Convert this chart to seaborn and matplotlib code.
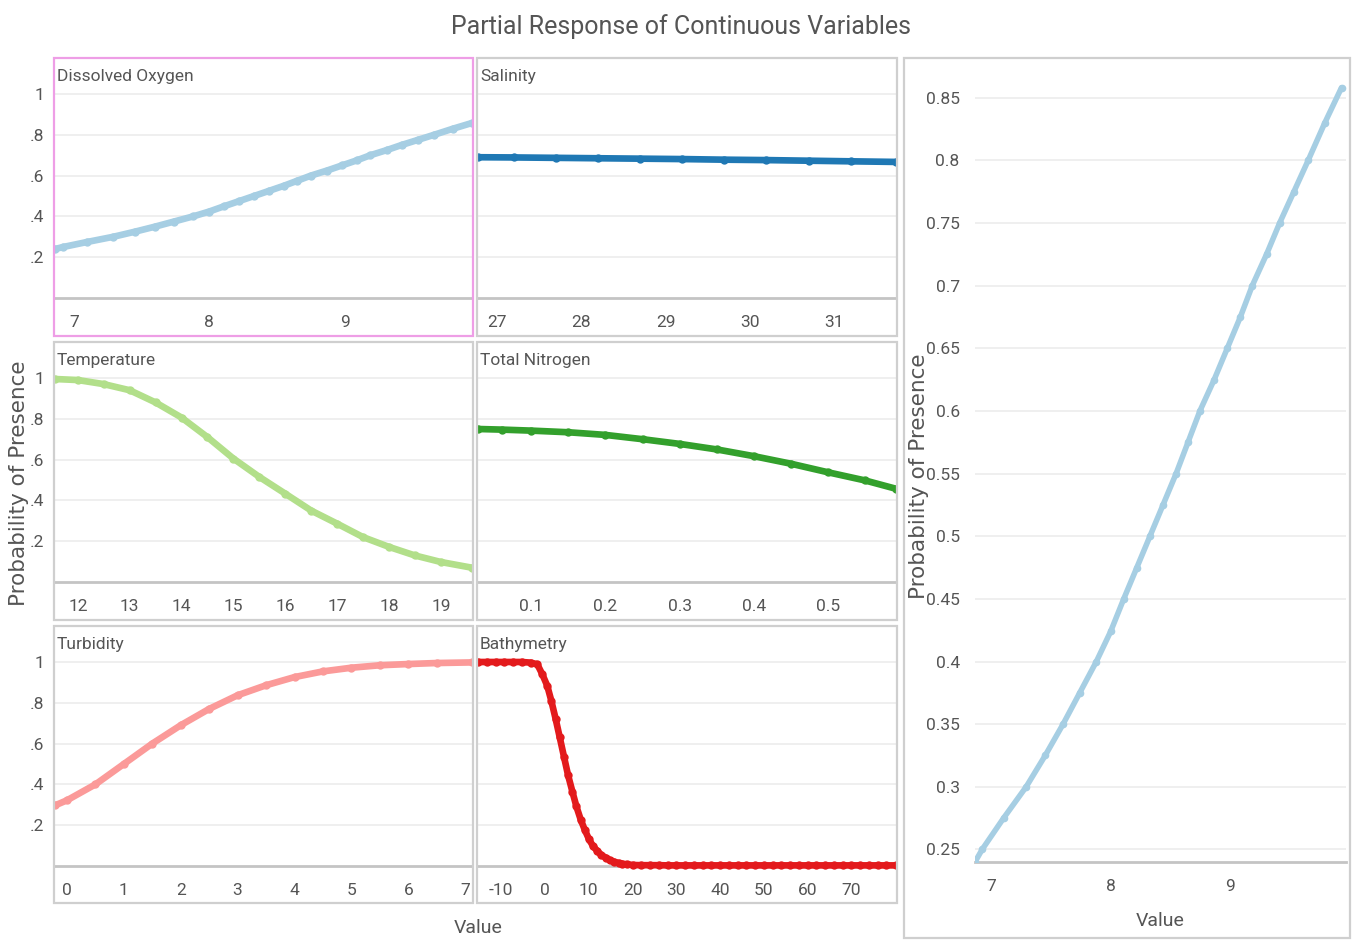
import numpy as np
import matplotlib
matplotlib.use("Agg")
import matplotlib.pyplot as plt
from matplotlib.patches import Rectangle
import seaborn as sns

# values
do_x = [6.86, 6.92, 7.10, 7.29, 7.45, 7.60, 7.74, 7.88, 8.00, 8.11, 8.22, 8.33, 8.44,
        8.55, 8.65, 8.75, 8.87, 8.98, 9.09, 9.19, 9.31, 9.42, 9.54, 9.66, 9.80, 9.94]
do_y = [0.240, 0.250, 0.275, 0.300, 0.325, 0.350, 0.375, 0.400, 0.424, 0.450, 0.475, 0.500, 0.525,
        0.550, 0.575, 0.600, 0.625, 0.650, 0.675, 0.700, 0.725, 0.750, 0.775, 0.800, 0.830, 0.858]

sal_x = [26.77, 27.2, 27.7, 28.2, 28.7, 29.2, 29.7, 30.2, 30.7, 31.2, 31.74]
sal_y = [0.690, 0.689, 0.687, 0.685, 0.683, 0.681, 0.678, 0.676, 0.673, 0.670, 0.667]

temp_x = [11.56, 12.0, 12.5, 13.0, 13.5, 14.0, 14.5, 15.0, 15.5, 16.0, 16.5, 17.0,
          17.5, 18.0, 18.5, 19.0, 19.6]
temp_y = [0.995, 0.990, 0.970, 0.940, 0.880, 0.806, 0.710, 0.605, 0.515, 0.433, 0.350, 0.286,
          0.220, 0.172, 0.130, 0.098, 0.070]

tn_x = [0.028, 0.06, 0.10, 0.15, 0.20, 0.25, 0.30, 0.35, 0.40, 0.45, 0.50, 0.55, 0.592]
tn_y = [0.750, 0.747, 0.742, 0.734, 0.721, 0.700, 0.677, 0.650, 0.617, 0.580, 0.538, 0.498, 0.457]

turb_x = [-0.21, 0.0, 0.5, 1.0, 1.5, 2.0, 2.5, 3.0, 3.5, 4.0, 4.5, 5.0, 5.5, 6.0, 6.5, 7.12]
turb_y = [0.297, 0.322, 0.400, 0.500, 0.600, 0.690, 0.770, 0.837, 0.886, 0.926, 0.954, 0.972,
          0.984, 0.990, 0.995, 0.998]

bath_x = [-15.3, -13.3, -11.3, -9.3, -7.3, -5.3, -3.3, -1.76, -0.61, 0.53, 1.45, 2.44, 3.36,
          4.35, 5.27, 6.26, 7.18, 8.17, 9.08, 10.08, 10.99, 11.98, 12.9, 13.9, 14.8, 15.8,
          16.8, 17.7, 18.8, 20.0, 22.0, 24.0, 26.0, 28.0, 30.0, 32.0, 34.0, 36.0, 38.0, 40.0,
          42.0, 44.0, 46.0, 48.0, 50.0, 52.0, 54.0, 56.0, 58.0, 60.0, 62.0, 64.0, 66.0, 68.0,
          70.0, 72.0, 74.0, 76.0, 78.0, 80.2]
bath_y = [1.0, 1.0, 1.0, 1.0, 1.0, 1.0, 0.997, 0.989, 0.940, 0.883, 0.810, 0.721, 0.632,
          0.535, 0.446, 0.365, 0.292, 0.227, 0.178, 0.130, 0.097, 0.073, 0.053, 0.041, 0.029, 0.021,
          0.015, 0.011, 0.008, 0.005, 0.004, 0.004, 0.004, 0.003, 0.003, 0.003, 0.003, 0.003, 0.003, 0.003,
          0.003, 0.003, 0.003, 0.003, 0.003, 0.003, 0.003, 0.003, 0.003, 0.003, 0.003, 0.003, 0.003, 0.003,
          0.003, 0.003, 0.003, 0.003, 0.003, 0.003]

panel_names = ["Dissolved Oxygen", "Salinity", "Temperature", "Total Nitrogen", "Turbidity", "Bathymetry"]
panel_data = [(do_x, do_y), (sal_x, sal_y), (temp_x, temp_y), (tn_x, tn_y), (turb_x, turb_y), (bath_x, bath_y)]
panel_xticks = [[7, 8, 9], [27, 28, 29, 30, 31], list(range(12, 20)),
                [0.1, 0.2, 0.3, 0.4, 0.5], list(range(0, 8)), list(range(-10, 80, 10))]
prob_ticks = [0.2, 0.4, 0.6, 0.8, 1.0]
prob_labels = [".2", ".4", ".6", ".8", "1"]
big_yticks = [0.25, 0.3, 0.35, 0.4, 0.45, 0.5, 0.55, 0.6, 0.65, 0.7, 0.75, 0.8, 0.85]

colors = sns.color_palette("Paired", 6)

sns.set_style("white")
NARROW = ["Liberation Sans Narrow", "Roboto", "DejaVu Sans"]
plt.rcParams["font.family"] = NARROW

W, H = 1356, 940
TXT = "#555555"
GRID = "#ececec"
AXLINE = "#c4c4c4"


def fig_box(x0, y0, x1, y1):
    return [x0 / W, 1 - y1 / H, (x1 - x0) / W, (y1 - y0) / H]


def frame(fig, x0, y0, x1, y1, color="#cfcfcf"):
    fig.add_artist(Rectangle((x0 / W, 1 - y1 / H), (x1 - x0) / W, (y1 - y0) / H,
                             transform=fig.transFigure, fill=False, edgecolor=color, lw=1.6))


def draw_curve(ax, x, y, color, lw=4.8, ms=6):
    sns.lineplot(x=x, y=y, ax=ax, color=color, linewidth=lw, marker="o", markersize=ms,
                 markeredgewidth=0, sort=False, estimator=None, zorder=4)


fig = plt.figure(figsize=(W / 100, H / 100), dpi=100)

fig.text(681 / W, 1 - 27 / H, "Partial Response of Continuous Variables", ha="center", va="center",
         fontsize=18, color=TXT)

cols = [(54, 473), (477, 897)]
rows = [(58, 336), (342, 620), (626, 903)]

for i, name in enumerate(panel_names):
    r, c = divmod(i, 2)
    x0, x1 = cols[c]
    y0, y1 = rows[r]
    frame(fig, x0, y0, x1, y1, color="#ee9ee6" if i == 0 else "#cfcfcf")
    ax = fig.add_axes(fig_box(x0 + 1, y0, x1 - 1, y1))
    ax.set_facecolor("none")
    x, y = panel_data[i]
    draw_curve(ax, x, y, colors[i])
    ax.set_xlim(x[0], x[-1])
    # value 1 sits 36 px below the frame top, value 0 sits 240 px below it
    ax.set_ylim(-(y1 - y0 - 240) / 204, 1 + 36 / 204)
    for s in ["top", "right", "left"]:
        ax.spines[s].set_visible(False)
    ax.spines["bottom"].set_position(("data", 0))
    ax.spines["bottom"].set_color(AXLINE)
    ax.spines["bottom"].set_linewidth(2)
    ax.spines["bottom"].set_zorder(1)
    ax.set_xticks(panel_xticks[i])
    ax.set_xticklabels([f"{v:g}" for v in panel_xticks[i]])
    ax.tick_params(axis="x", length=4, width=1, color="#aaaaaa", pad=8, labelsize=12.5, labelcolor=TXT)
    ax.set_yticks(prob_ticks)
    if c == 0:
        ax.set_yticklabels(prob_labels)
    else:
        ax.set_yticklabels([])
    ax.tick_params(axis="y", length=0, pad=8, labelsize=12.5, labelcolor=TXT)
    ax.grid(axis="y", color=GRID, lw=1.2)
    ax.grid(axis="x", visible=False)
    ax.set_xlabel("")
    ax.set_ylabel("")
    fig.text((x0 + 3) / W, 1 - (y0 + 19) / H, name, ha="left", va="center", fontsize=12.5, color=TXT)

fig.text(19 / W, 1 - 483 / H, "Probability of Presence", rotation=90, ha="center", va="center",
         fontsize=15.5, color=TXT, family=["DejaVu Sans"])
fig.text(478 / W, 1 - 928 / H, "Value", ha="center", va="center", fontsize=14, color=TXT)

# enlarged view of the selected variable
frame(fig, 904, 58, 1350, 938)
bx = fig.add_axes(fig_box(975, 80, 1346, 862))
bx.set_facecolor("none")
draw_curve(bx, do_x, do_y, colors[0], lw=4, ms=5.5)
bx.set_xlim(6.86, 6.86 + 371 / 119)
bx.set_ylim(0.24, 0.24 + 782 / 1253)
for s in ["top", "right", "left"]:
    bx.spines[s].set_visible(False)
bx.spines["bottom"].set_color(AXLINE)
bx.spines["bottom"].set_linewidth(2)
bx.spines["bottom"].set_zorder(1)
bx.set_xticks([7, 8, 9])
bx.set_xticklabels(["7", "8", "9"])
bx.set_yticks(big_yticks)
bx.set_yticklabels([f"{v:g}" for v in big_yticks])
bx.tick_params(axis="x", length=4, width=1, color="#aaaaaa", pad=8, labelsize=12.5, labelcolor=TXT)
bx.tick_params(axis="y", length=0, pad=11, labelsize=12.5, labelcolor=TXT)
bx.grid(axis="y", color=GRID, lw=1.2)
bx.grid(axis="x", visible=False)
bx.set_xlabel("")
bx.set_ylabel("")
fig.text(919 / W, 1 - 476 / H, "Probability of Presence", rotation=90, ha="center", va="center",
         fontsize=15.5, color=TXT, family=["DejaVu Sans"])
fig.text(1160 / W, 1 - 921 / H, "Value", ha="center", va="center", fontsize=14, color=TXT)

fig.savefig("out.png", dpi=100, facecolor="white")
